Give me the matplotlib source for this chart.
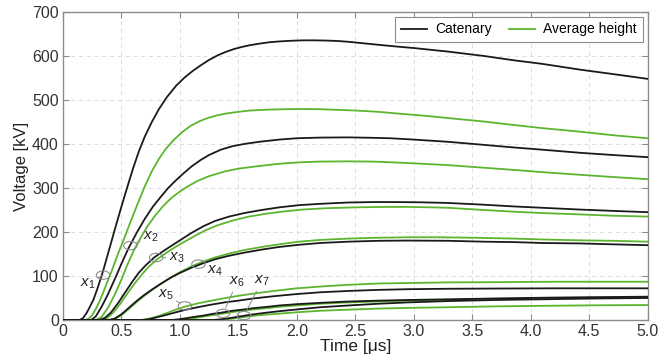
import matplotlib
matplotlib.use("Agg")
import matplotlib.pyplot as plt
from matplotlib.patches import Ellipse

plt.rcParams['font.family'] = ['Liberation Sans', 'DejaVu Sans']
plt.rcParams['mathtext.fontset'] = 'custom'
plt.rcParams['mathtext.it'] = 'Liberation Sans:italic'
plt.rcParams['mathtext.rm'] = 'Liberation Sans'

# ---- data (time in µs, voltage in kV) ----
cat1_t = [0, 0.14, 0.17, 0.20, 0.23, 0.26, 0.29, 0.32, 0.35, 0.40, 0.45, 0.50, 0.55, 0.60, 0.65, 0.70, 0.76, 0.82, 0.89, 0.97, 1.04, 1.11, 1.18, 1.25, 1.32, 1.39, 1.46, 1.53, 1.60, 1.68, 1.76, 1.85, 1.95, 2.05, 2.15, 2.25, 2.35, 2.45, 2.60, 2.75, 2.87, 3.0, 3.29, 3.6, 3.86, 4.1, 4.42, 4.7, 5.0]
cat1_v = [0, 0, 4, 15, 30, 46, 68, 92, 118, 165, 212, 258, 302, 345, 384, 417, 450, 479, 507, 533, 551, 566, 579, 591, 601, 609, 615.5, 620.5, 624.5, 628, 631, 633, 634.5, 635.5, 635.5, 635, 634, 632, 628, 624, 621, 618, 610, 600, 590, 582, 569, 559, 548]
avg1_t = [0, 0.19, 0.22, 0.25, 0.28, 0.31, 0.34, 0.38, 0.42, 0.47, 0.53, 0.58, 0.64, 0.70, 0.76, 0.82, 0.88, 0.95, 1.02, 1.09, 1.17, 1.25, 1.32, 1.39, 1.50, 1.60, 1.75, 1.90, 2.05, 2.20, 2.35, 2.50, 2.70, 2.87, 3.10, 3.29, 3.6, 3.86, 4.1, 4.42, 4.7, 5.0]
avg1_v = [0, 0, 3, 11, 25, 41, 60, 87, 114, 150, 190, 225, 265, 304, 338, 366, 389, 410, 427, 441, 452, 460, 465, 469, 473, 476, 478, 479, 479.5, 479, 477.5, 476, 473, 469, 464, 459, 451, 443, 436, 428, 420, 413]

cat2_t = [0, 0.24, 0.28, 0.33, 0.38, 0.45, 0.50, 0.56, 0.63, 0.70, 0.77, 0.84, 0.90, 0.96, 1.03, 1.10, 1.18, 1.25, 1.35, 1.45, 1.55, 1.68, 1.85, 2.0, 2.2, 2.44, 2.65, 2.8, 3.0, 3.29, 3.6, 3.86, 4.1, 4.42, 4.7, 5.0]
cat2_v = [0, 0, 8, 30, 56, 97, 128, 163, 198, 230, 258, 281, 300, 316, 333, 349, 364, 375, 387, 395, 400, 405, 410, 413, 414.5, 415, 414, 413, 410, 405, 398, 392, 387, 380, 375, 370]
avg2_t = [0, 0.28, 0.33, 0.39, 0.45, 0.50, 0.55, 0.60, 0.66, 0.72, 0.79, 0.86, 0.93, 1.0, 1.07, 1.15, 1.25, 1.39, 1.50, 1.68, 1.85, 2.0, 2.2, 2.44, 2.65, 2.8, 3.0, 3.29, 3.6, 3.86, 4.1, 4.42, 4.7, 5.0]
avg2_v = [0, 0, 7, 30, 62, 92, 125, 155, 185, 212, 238, 260, 278, 292, 304, 316, 327, 338, 344, 350, 355, 358, 360, 360.5, 360, 358.5, 356, 352, 346, 341, 336, 330, 325, 320]

cat3_t = [0, 0.31, 0.36, 0.41, 0.47, 0.53, 0.59, 0.65, 0.71, 0.78, 0.86, 0.93, 1.0, 1.1, 1.2, 1.3, 1.42, 1.55, 1.7, 1.85, 2.02, 2.2, 2.44, 2.65, 2.85, 3.05, 3.29, 3.6, 3.86, 4.1, 4.42, 4.7, 5.0]
cat3_v = [0, 0, 5, 17, 38, 62, 86, 108, 125, 142, 157, 169, 181, 198, 213, 225, 235, 243, 250, 256, 261, 264, 267, 268, 268, 267.5, 266, 262, 258, 255, 251, 248, 245]
avg3_t = [0, 0.33, 0.38, 0.43, 0.49, 0.55, 0.61, 0.67, 0.73, 0.80, 0.88, 0.95, 1.02, 1.12, 1.22, 1.32, 1.45, 1.59, 1.75, 1.9, 2.05, 2.25, 2.5, 2.75, 2.95, 3.15, 3.29, 3.6, 3.86, 4.1, 4.42, 4.7, 5.0]
avg3_v = [0, 0, 5, 17, 37, 60, 82, 102, 120, 137, 152, 164, 175, 190, 204, 215, 226, 235, 242, 247, 251, 254, 256, 257, 257, 256, 255, 250, 246, 243, 240, 237, 235]

cat4_t = [0, 0.39, 0.44, 0.50, 0.56, 0.62, 0.69, 0.76, 0.84, 0.92, 1.0, 1.1, 1.2, 1.3, 1.42, 1.55, 1.7, 1.85, 2.02, 2.2, 2.44, 2.7, 2.95, 3.29, 3.6, 3.86, 4.1, 4.42, 4.7, 5.0]
cat4_v = [0, 0, 3, 13, 27, 41, 56, 69, 83, 96, 107, 119, 129, 138, 146, 153, 160, 166, 171, 175, 178, 180, 180.5, 180, 178, 177, 175, 174, 172, 170]
avg4_t = [0, 0.40, 0.45, 0.51, 0.57, 0.63, 0.70, 0.77, 0.85, 0.93, 1.01, 1.1, 1.2, 1.3, 1.42, 1.55, 1.7, 1.85, 2.02, 2.2, 2.44, 2.7, 2.95, 3.2, 3.5, 3.86, 4.1, 4.42, 4.7, 5.0]
avg4_v = [0, 0, 3, 13, 27, 41, 56, 70, 84, 98, 110, 122, 133, 142, 151, 159, 166, 172, 178, 182, 185, 187, 188, 188, 187, 185, 183, 181, 180, 178]

cat5_t = [0, 0.68, 0.74, 0.80, 0.86, 0.93, 1.0, 1.08, 1.17, 1.27, 1.38, 1.5, 1.63, 1.8, 2.0, 2.2, 2.44, 2.7, 2.95, 3.29, 3.7, 4.2, 5.0]
cat5_v = [0, 0, 2, 6, 10, 15, 20, 25, 30, 35, 40, 44, 49, 54, 59, 63, 66, 68.5, 70, 71, 71.5, 72, 72]
avg5_t = [0, 0.66, 0.72, 0.78, 0.84, 0.90, 0.97, 1.05, 1.14, 1.25, 1.37, 1.5, 1.63, 1.8, 2.0, 2.2, 2.44, 2.7, 2.95, 3.29, 3.7, 4.2, 5.0]
avg5_v = [0, 0, 2, 6, 11, 17, 24, 31, 37, 43, 49, 55, 60, 66, 72, 76, 80, 83, 84, 85.5, 86, 87, 87]

cat6_t = [0, 0.93, 0.99, 1.05, 1.12, 1.2, 1.28, 1.36, 1.45, 1.55, 1.63, 1.75, 1.85, 2.0, 2.2, 2.44, 2.7, 2.95, 3.29, 3.7, 4.2, 4.6, 5.0]
cat6_v = [0, 0, 1.5, 4, 7, 10, 14, 17, 21, 24, 27, 30, 33, 36, 39, 42, 44, 45.5, 47, 49, 51, 52, 53]
avg6_t = [0, 0.96, 1.02, 1.1, 1.18, 1.25, 1.33, 1.4, 1.5, 1.63, 1.75, 1.85, 2.0, 2.2, 2.44, 2.7, 2.95, 3.29, 3.7, 4.2, 4.6, 5.0]
avg6_v = [0, 0, 1, 3, 7, 10, 13, 16, 20, 24, 27, 30, 33, 37, 40, 42, 44, 46, 48, 50, 51, 52]

cat7_t = [0, 1.28, 1.35, 1.42, 1.5, 1.58, 1.66, 1.75, 1.85, 2.0, 2.2, 2.44, 2.7, 2.95, 3.29, 3.7, 4.2, 4.6, 5.0]
cat7_v = [0, 0, 1.5, 4, 7.5, 11, 14, 17, 20, 24, 29, 33, 37, 40, 43, 45.5, 47.5, 49, 50]
avg7_t = [0, 1.33, 1.4, 1.47, 1.55, 1.63, 1.72, 1.85, 2.0, 2.2, 2.44, 2.7, 2.95, 3.29, 3.7, 4.2, 4.6, 5.0]
avg7_v = [0, 0, 1.5, 4, 7, 9.5, 12, 14.5, 17.5, 21, 23.5, 26, 27.5, 29, 31, 32.5, 33.5, 34]

cat_t = [cat1_t, cat2_t, cat3_t, cat4_t, cat5_t, cat6_t, cat7_t]
cat_v = [cat1_v, cat2_v, cat3_v, cat4_v, cat5_v, cat6_v, cat7_v]
avg_t = [avg1_t, avg2_t, avg3_t, avg4_t, avg5_t, avg6_t, avg7_t]
avg_v = [avg1_v, avg2_v, avg3_v, avg4_v, avg5_v, avg6_v, avg7_v]

series_names = ["Catenary", "Average height"]
case_labels = ["$x_1$", "$x_2$", "$x_3$", "$x_4$", "$x_5$", "$x_6$", "$x_7$"]
x_ticks = [0, 0.5, 1.0, 1.5, 2.0, 2.5, 3.0, 3.5, 4.0, 4.5, 5.0]
x_ticklabels = ["0", "0.5", "1.0", "1.5", "2.0", "2.5", "3.0", "3.5", "4.0", "4.5", "5.0"]
y_ticks = [0, 100, 200, 300, 400, 500, 600, 700]

BLACK = "#1a1a1a"
GREEN = "#5db52f"
GRAY = "#8c8c8c"

fig = plt.figure(figsize=(6.59, 3.62), dpi=100)
ax = fig.add_axes([0.0956, 0.116, 0.887, 0.851])

cat_handle = avg_handle = None
for i in range(7):
    (h_a,) = ax.plot(avg_t[i], avg_v[i], color=GREEN, lw=1.3, zorder=3)
    (h_c,) = ax.plot(cat_t[i], cat_v[i], color=BLACK, lw=1.3, zorder=4)
    if i == 0:
        cat_handle, avg_handle = h_c, h_a

# annotations: ellipse centre (t, V) and label position (t, V)
ell_pos = [(0.343, 102), (0.576, 169), (0.797, 142), (1.159, 127),
           (1.043, 32), (1.369, 15), (1.548, 10)]
lab_pos = [(0.21, 82), (0.75, 188), (0.97, 141), (1.30, 111),
           (0.88, 57), (1.49, 86), (1.70, 88)]
for lab, (ex, ey), (lx, ly) in zip(case_labels, ell_pos, lab_pos):
    ax.add_patch(Ellipse((ex, ey), 0.115, 19, fill=False, ec=GRAY, lw=0.8, zorder=5))
    ax.annotate(lab, xy=(ex, ey), xytext=(lx, ly), fontsize=11,
                ha='center', va='center', color="#222222",
                arrowprops=dict(arrowstyle='-', color=GRAY, lw=0.7,
                                shrinkA=0, shrinkB=4.5), zorder=6)

ax.set_xlim(0, 5)
ax.set_ylim(0, 700)
ax.set_xticks(x_ticks)
ax.set_xticklabels(x_ticklabels)
ax.set_yticks(y_ticks)
ax.tick_params(direction='in', top=True, right=True, length=4, width=0.8,
               color=GRAY, labelsize=11.5, labelcolor="#333333", pad=3)
ax.grid(True, ls=(0, (4, 4)), color="#dcdcdc", lw=0.7)
for s in ax.spines.values():
    s.set_color(GRAY)
    s.set_linewidth(1.0)
ax.set_xlabel("Time [μs]", fontsize=12.5, color="#222222", labelpad=0)
ax.set_ylabel("Voltage [kV]", fontsize=12, color="#222222", labelpad=2)

leg = ax.legend([cat_handle, avg_handle], series_names, loc='upper right',
                ncol=2, fontsize=10, frameon=True,
                fancybox=False, edgecolor=GRAY, framealpha=1,
                handlelength=1.9, columnspacing=1.2, borderaxespad=0.35,
                handletextpad=0.6, borderpad=0.4)
leg.get_frame().set_linewidth(0.8)

fig.savefig("out.png", dpi=100)
